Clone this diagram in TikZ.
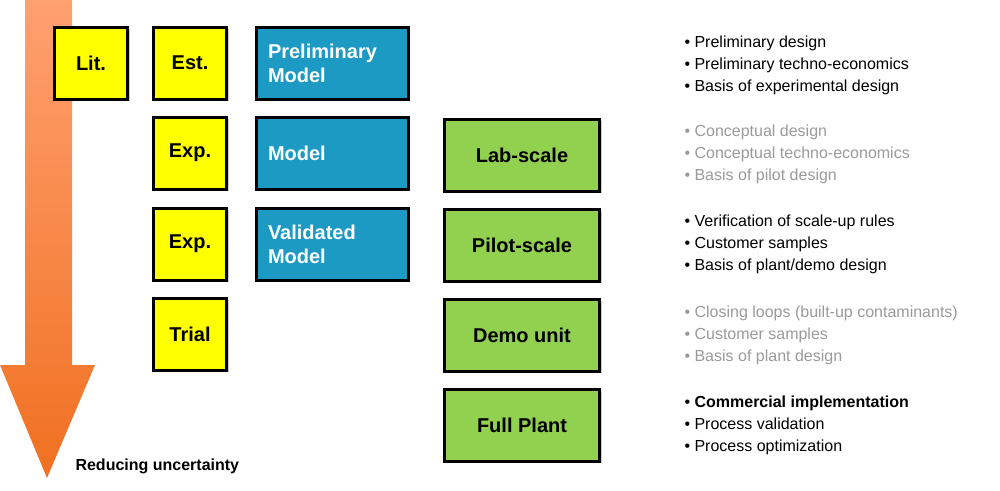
\documentclass[tikz,border=0pt]{standalone}
\usepackage{fontspec}
\setmainfont{Liberation Sans}
\usetikzlibrary{shadows}
\definecolor{boxyellow}{HTML}{FFFF00}
\definecolor{boxblue}{HTML}{1D9AC4}
\definecolor{boxgreen}{HTML}{92D050}
\definecolor{fadegray}{HTML}{9A9A9A}
\definecolor{arrowtop}{HTML}{FFA070}
\definecolor{arrowbot}{HTML}{F07020}
\begin{document}
\begin{tikzpicture}[x=1pt,y=-1pt,
    stage/.style = {draw=black,line width=3pt,drop shadow={shadow xshift=2pt,shadow yshift=-2pt,opacity=0.4},font=\fontsize{20}{24}\selectfont\bfseries},
    lit/.style = {stage,fill=boxyellow,minimum width=73pt,minimum height=72pt},
    model/.style = {stage,fill=boxblue,text=white,minimum width=152pt,minimum height=72pt,align=left,text width=128pt},
    plant/.style = {stage,fill=boxgreen,minimum width=155pt,minimum height=72pt},
    notes/.style = {anchor=north west,align=left,font=\fontsize{16}{22}\selectfont}]
    \useasboundingbox (0,0) rectangle (1000,490);
    % uncertainty arrow
    \shade[top color=arrowtop,bottom color=arrowbot]
      (25,0) -- (72,0) -- (72,365) -- (95,365) -- (47,478) -- (0,365) -- (25,365) -- cycle;
    \node[anchor=west,font=\fontsize{16}{20}\selectfont\bfseries](uncertainty) at (72,466) {Reducing uncertainty};

    % column 1 and 2
    \node[lit](lit) at (91,63) {Lit.};
    \node[lit](est) at (190,63) {Est.};
    \node[lit](exp1) at (190,153) {Exp.};
    \node[lit](exp2) at (190,244) {Exp.};
    \node[lit](trial) at (190,334) {Trial};

    % models
    \node[model](prelim) at (332,63) {Preliminary\\Model};
    \node[model](model) at (332,153) {Model};
    \node[model](validated) at (332,244) {Validated\\Model};

    % scales
    \node[plant](lab) at (522,155) {Lab-scale};
    \node[plant](pilot) at (522,245) {Pilot-scale};
    \node[plant](demo) at (522,335) {Demo unit};
    \node[plant](full) at (522,425) {Full Plant};

    % notes
    \node[notes](n1) at (681,32) {• Preliminary design\\• Preliminary techno-economics\\• Basis of experimental design};
    \node[notes,text=fadegray](n2) at (681,121) {• Conceptual design\\• Conceptual techno-economics\\• Basis of pilot design};
    \node[notes](n3) at (681,211) {• Verification of scale-up rules\\• Customer samples\\• Basis of plant/demo design};
    \node[notes,text=fadegray](n4) at (681,302) {• Closing loops (built-up contaminants)\\• Customer samples\\• Basis of plant design};
    \node[notes](n5) at (681,392) {• \textbf{Commercial implementation}\\• Process validation\\• Process optimization};
\end{tikzpicture}
\end{document}
